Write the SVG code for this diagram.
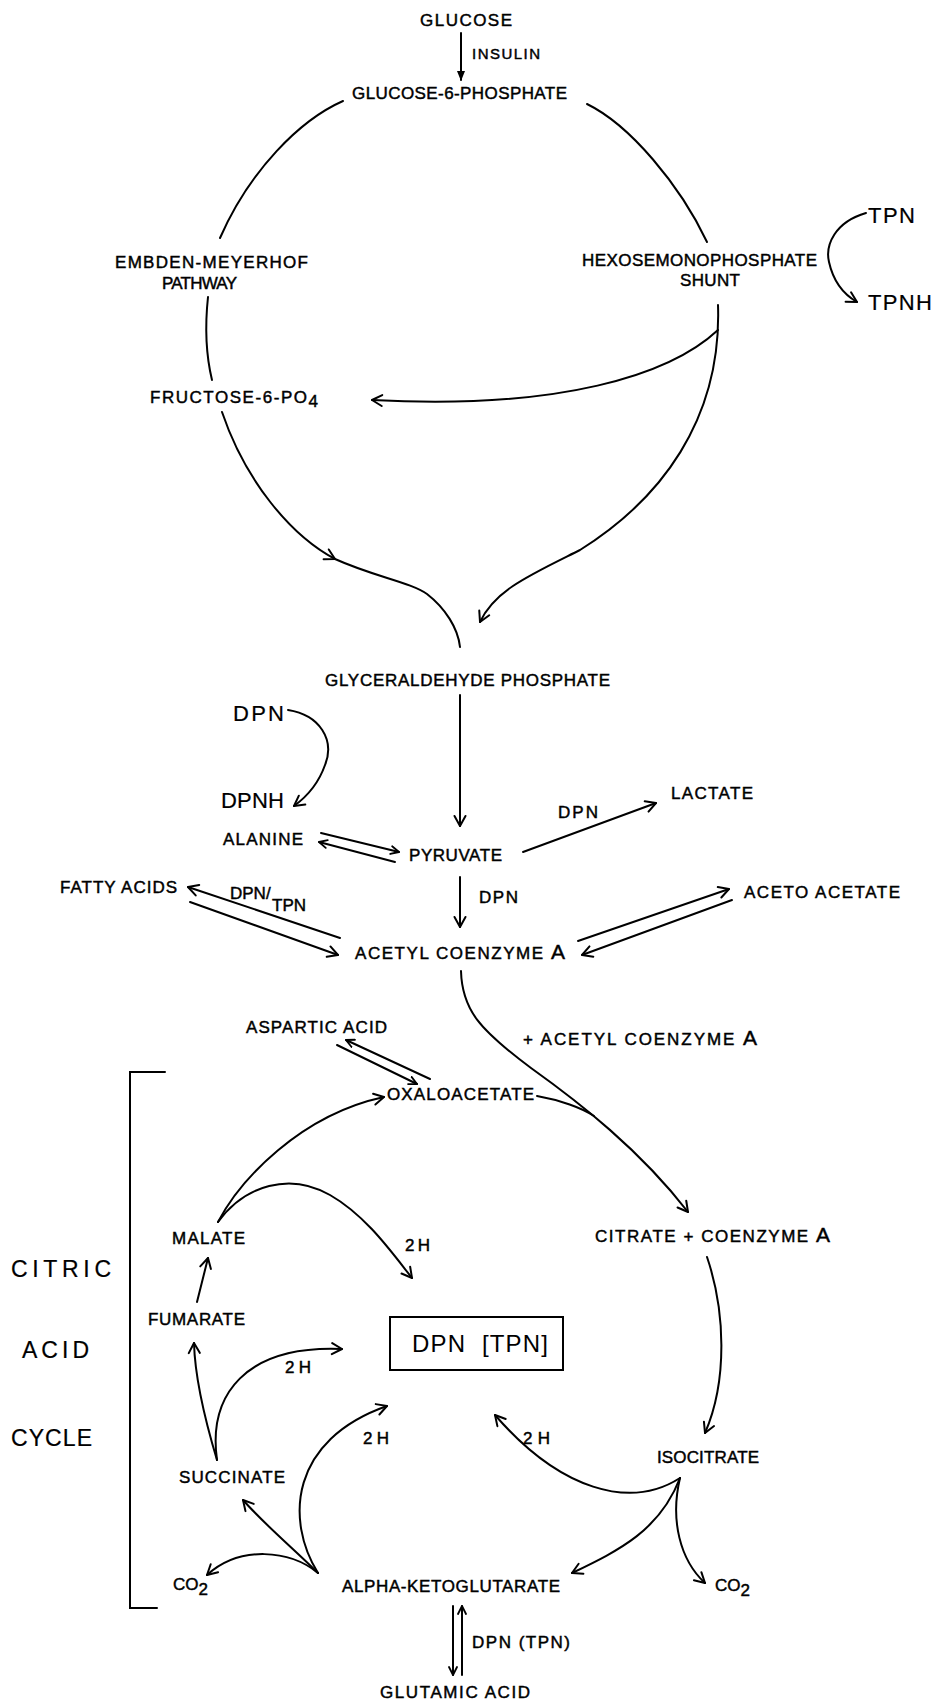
<svg xmlns="http://www.w3.org/2000/svg" width="935" height="1701" viewBox="0 0 935 1701">
<style>
.t{font-family:"Liberation Sans",Arial,sans-serif;font-size:17px;fill:#000;stroke:#000;stroke-width:0.45}
.b{font-size:22px;stroke-width:0.2}
.h{font-size:23px;stroke-width:0.2}
.c{fill:none;stroke:#000;stroke-width:2;stroke-linecap:round}
</style>
<defs>
<marker id="ah" viewBox="0 0 14 14" refX="12" refY="7" markerWidth="14" markerHeight="14" orient="auto" markerUnits="userSpaceOnUse">
<path d="M2,1.5 L12,7 L2,12.5" fill="none" stroke="#000" stroke-width="2" stroke-linecap="round" stroke-linejoin="round"/>
</marker>
<marker id="as" viewBox="0 0 10 10" refX="9" refY="5" markerWidth="10" markerHeight="10" orient="auto" markerUnits="userSpaceOnUse">
<path d="M1,1 L9,5 L1,9" fill="none" stroke="#000" stroke-width="1.8" stroke-linecap="round" stroke-linejoin="round"/>
</marker>
<marker id="af" viewBox="0 0 10 10" refX="9" refY="5" markerWidth="10" markerHeight="10" orient="auto" markerUnits="userSpaceOnUse">
<path d="M0,1 L10,5 L0,9 Z" fill="#000"/>
</marker>
</defs>
<rect width="935" height="1701" fill="#fff"/>

<g id="connectors">
<path class="c" d="M461,33 L461,80" marker-end="url(#af)"/>
<path class="c" d="M343,101 C 300,120 250,170 220,238"/>
<path class="c" d="M208,297 C 205,325 206,355 212,380"/>
<path class="c" d="M222,412 C 245,480 290,535 335,559" marker-end="url(#ah)"/>
<path class="c" d="M335,559 C 375,577 410,582 427,594 C 445,608 458,628 460,647"/>
<path class="c" d="M587,104 C 630,125 680,185 707,242"/>
<path class="c" d="M718,305 C 722,420 660,500 580,550 C 530,575 495,590 480,622" marker-end="url(#ah)"/>
<path class="c" d="M718,330 C 670,375 560,410 372,400" marker-end="url(#ah)"/>
<path class="c" d="M866,213 C 835,222 825,245 829,262 C 833,280 843,294 857,302" marker-end="url(#ah)"/>
<path class="c" d="M288,710 C 320,715 335,740 325,765 C 318,785 305,798 294,806" marker-end="url(#ah)"/>
<path class="c" d="M460,695 L460,826" marker-end="url(#ah)"/>
<path class="c" d="M321,833 L399,852" marker-end="url(#as)"/>
<path class="c" d="M395,862 L319,842" marker-end="url(#as)"/>
<path class="c" d="M523,852 L656,803" marker-end="url(#ah)"/>
<path class="c" d="M460,877 L460,927" marker-end="url(#ah)"/>
<path class="c" d="M340,938 L188,887" marker-end="url(#ah)"/>
<path class="c" d="M190,902 L338,955" marker-end="url(#ah)"/>
<path class="c" d="M578,941 L729,889" marker-end="url(#ah)"/>
<path class="c" d="M732,900 L582,955" marker-end="url(#ah)"/>
<path class="c" d="M461,971 C 462,1010 480,1030 531,1068 C 580,1103 640,1150 688,1212" marker-end="url(#ah)"/>
<path class="c" d="M537,1096 C 560,1100 582,1108 594,1116"/>
<path class="c" d="M430,1079 L346,1040" marker-end="url(#as)"/>
<path class="c" d="M337,1045 L417,1084" marker-end="url(#as)"/>
<path class="c" d="M218,1222 C 240,1180 300,1115 384,1097" marker-end="url(#ah)"/>
<path class="c" d="M218,1222 C 245,1185 290,1172 330,1195 C 365,1215 390,1250 412,1278" marker-end="url(#ah)"/>
<path class="c" d="M197,1302 L208,1258" marker-end="url(#ah)"/>
<path class="c" d="M217,1460 C 205,1420 195,1380 194,1343" marker-end="url(#ah)"/>
<path class="c" d="M217,1460 C 208,1395 245,1345 342,1349" marker-end="url(#ah)"/>
<path class="c" d="M318,1573 C 290,1550 240,1545 207,1575" marker-end="url(#ah)"/>
<path class="c" d="M318,1573 C 295,1550 265,1525 243,1500" marker-end="url(#ah)"/>
<path class="c" d="M318,1573 C 285,1520 290,1440 387,1406" marker-end="url(#ah)"/>
<path class="c" d="M707,1257 C 725,1310 728,1380 705,1433" marker-end="url(#ah)"/>
<path class="c" d="M680,1478 C 630,1510 560,1490 495,1415" marker-end="url(#ah)"/>
<path class="c" d="M680,1478 C 660,1530 620,1550 572,1573" marker-end="url(#ah)"/>
<path class="c" d="M680,1478 C 670,1520 680,1560 705,1583" marker-end="url(#ah)"/>
<path class="c" d="M453,1606 L453,1675" marker-end="url(#as)"/>
<path class="c" d="M462,1675 L462,1606" marker-end="url(#as)"/>
<path class="c" d="M165,1072 L130,1072 L130,1608 L157,1608"/>
</g>

<g id="glucose"><text class="t" x="420" y="26" textLength="92">GLUCOSE</text></g>
<g id="insulin"><text class="t" x="472" y="59" textLength="68" style="font-size:15px">INSULIN</text></g>
<g id="g6p"><text class="t" x="352" y="99" textLength="215">GLUCOSE-6-PHOSPHATE</text></g>
<g id="embden"><text class="t" x="115" y="268" textLength="193">EMBDEN-MEYERHOF</text><text class="t" x="162" y="289" textLength="75">PATHWAY</text></g>
<g id="f6p"><text class="t" x="150" y="403" textLength="168">FRUCTOSE-6-PO<tspan dy="4">4</tspan></text></g>
<g id="hms"><text class="t" x="582" y="266" textLength="235">HEXOSEMONOPHOSPHATE</text><text class="t" x="680" y="286" textLength="60">SHUNT</text></g>
<g id="tpn"><text class="t b" x="868" y="223" textLength="47">TPN</text></g>
<g id="tpnh"><text class="t b" x="868" y="310" textLength="64">TPNH</text></g>
<g id="gap"><text class="t" x="325" y="686" textLength="285">GLYCERALDEHYDE PHOSPHATE</text></g>
<g id="dpn1"><text class="t b" x="233" y="721" textLength="51">DPN</text></g>
<g id="dpnh"><text class="t b" x="221" y="808" textLength="63">DPNH</text></g>
<g id="alanine"><text class="t" x="223" y="845" textLength="80">ALANINE</text></g>
<g id="pyruvate"><text class="t" x="409" y="861" textLength="93">PYRUVATE</text></g>
<g id="dpn-lac"><text class="t" x="558" y="818" textLength="40">DPN</text></g>
<g id="lactate"><text class="t" x="671" y="799" textLength="82">LACTATE</text></g>
<g id="dpn-pyr"><text class="t" x="479" y="903" textLength="39">DPN</text></g>
<g id="fatty"><text class="t" x="60" y="893" textLength="117">FATTY ACIDS</text></g>
<g id="dpn-tpn"><text class="t" x="230" y="899">DPN/<tspan x="272" y="911">TPN</tspan></text></g>
<g id="acetylcoa"><text class="t" x="355" y="959" textLength="210">ACETYL  COENZYME <tspan style="font-size:21px">A</tspan></text></g>
<g id="aceto"><text class="t" x="744" y="898" textLength="156">ACETO ACETATE</text></g>
<g id="aspartic"><text class="t" x="246" y="1033" textLength="141">ASPARTIC ACID</text></g>
<g id="plus-acetyl"><text class="t" x="523" y="1045" textLength="234">+ ACETYL COENZYME <tspan style="font-size:21px">A</tspan></text></g>
<g id="oxaloacetate"><text class="t" x="387" y="1100" textLength="147">OXALOACETATE</text></g>
<g id="malate"><text class="t" x="172" y="1244" textLength="73">MALATE</text></g>
<g id="h2a"><text class="t" x="405" y="1251" textLength="25">2H</text></g>
<g id="citrate"><text class="t" x="595" y="1242" textLength="235">CITRATE + COENZYME <tspan style="font-size:21px">A</tspan></text></g>
<g id="fumarate"><text class="t" x="148" y="1325" textLength="97">FUMARATE</text></g>
<g id="dpnbox"><rect x="390" y="1317" width="173" height="53" fill="none" stroke="#000" stroke-width="2"/><text class="t" x="412" y="1352" textLength="136" style="font-size:24px;stroke-width:0;white-space:pre">DPN  [TPN]</text></g>
<g id="h2b"><text class="t" x="285" y="1373" textLength="26">2H</text></g>
<g id="h2c"><text class="t" x="363" y="1444" textLength="26">2H</text></g>
<g id="h2d"><text class="t" x="523" y="1444" textLength="27">2H</text></g>
<g id="isocitrate"><text class="t" x="657" y="1463" textLength="102">ISOCITRATE</text></g>
<g id="succinate"><text class="t" x="179" y="1483" textLength="106">SUCCINATE</text></g>
<g id="co2a"><text class="t" x="173" y="1590">CO<tspan dy="5">2</tspan></text></g>
<g id="akg"><text class="t" x="342" y="1592" textLength="218">ALPHA-KETOGLUTARATE</text></g>
<g id="co2b"><text class="t" x="715" y="1591">CO<tspan dy="5">2</tspan></text></g>
<g id="dpn-tpn2"><text class="t" x="472" y="1648" textLength="98">DPN (TPN)</text></g>
<g id="glutamic"><text class="t" x="380" y="1698" textLength="150">GLUTAMIC ACID</text></g>
<g id="cycle-label"><text class="t h" x="11" y="1277" textLength="100">CITRIC</text><text class="t h" x="22" y="1358" textLength="67">ACID</text><text class="t h" x="11" y="1446" textLength="81">CYCLE</text></g>
</svg>
